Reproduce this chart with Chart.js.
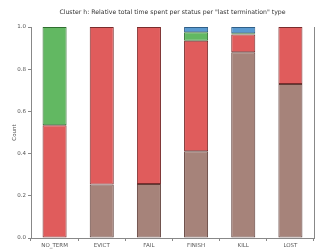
<!DOCTYPE html>
<html><head><meta charset="utf-8">
<script src="https://cdn.jsdelivr.net/npm/chart.js@4"></script>
<style>html,body{margin:0;padding:0;background:#fff}#w{width:321px;height:249px}</style>
</head><body><div id="w"><canvas id="c" width="321" height="249"></canvas></div>
<script>
const categories = ["NO_TERM","EVICT","FAIL","FINISH","KILL","LOST"];
const brownVals = [0, 0.254, 0.256, 0.411, 0.880, 0.730];
const redVals   = [0.534, 0.746, 0.744, 0.524, 0.085, 0.270];
const greenVals = [0.466, 0, 0, 0.040, 0.005, 0];
const blueVals  = [0, 0, 0, 0.025, 0.030, 0];
const yTicks = [0, 0.2, 0.4, 0.6, 0.8, 1.0];
const titleText = 'Cluster h: Relative total time spent per status per "last termination" type';

const frame = {
  id:'frame',
  afterDraw(ch){
    const a = ch.chartArea, c = ch.ctx;
    c.save(); c.strokeStyle='#888'; c.lineWidth=1;
    c.beginPath();
    c.moveTo(Math.round(a.right)+0.5, a.top); c.lineTo(Math.round(a.right)+0.5, a.bottom);
    c.stroke();
    c.fillStyle='#333'; c.font='6.2px "DejaVu Sans"'; c.textAlign='center'; c.textBaseline='middle';
    c.fillText(titleText, (a.left+a.right)/2, 12);
    c.restore();
  }
};
const mk = (label, data, bg, bd) => ({label, data, backgroundColor:bg, borderColor:bd, borderWidth:1, borderSkipped:false, barPercentage:0.51, categoryPercentage:1.0});
new Chart(document.getElementById('c'), {
  type:'bar',
  data:{labels:categories, datasets:[
    mk('brown', brownVals, '#a6837a', '#5e3e38'),
    mk('red', redVals, '#e05c5c', '#7a2c2c'),
    mk('green', greenVals, '#62b862', '#2f6e2f'),
    mk('blue', blueVals, '#5a9ad0', '#2f5f88')
  ]},
  options:{
    responsive:false, animation:false, devicePixelRatio:1,
    layout:{padding:{left:11,right:7,top:27,bottom:0}},
    plugins:{legend:{display:false}, tooltip:{enabled:false}, title:{display:false}},
    scales:{
      x:{stacked:true, grid:{display:true, drawOnChartArea:false, tickLength:3, color:'#888'},
        border:{color:'#888'},
        ticks:{color:'#555', font:{family:'DejaVu Sans', size:5.5}, padding:1, maxRotation:0},
        afterFit(s){ s.height = 11; }},
      y:{stacked:true, min:0, max:1,
        afterBuildTicks(s){ s.ticks = yTicks.map(v=>({value:v})); },
        grid:{display:true, drawOnChartArea:false, tickLength:3, color:'#888'},
        border:{color:'#888'},
        ticks:{color:'#555', font:{family:'DejaVu Sans', size:5.5}, padding:2, callback:v=>v.toFixed(1)},
        title:{display:true, text:'Count', color:'#555', font:{family:'DejaVu Sans', size:5.5}, padding:{top:0,bottom:0}},
        afterFit(s){ s.width = 20; }}
    }
  },
  plugins:[frame]
});
</script></body></html>
